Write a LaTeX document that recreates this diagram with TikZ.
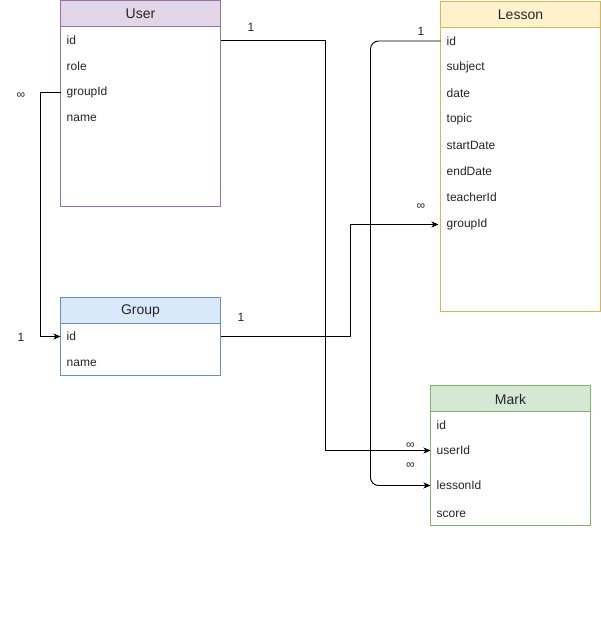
\documentclass[tikz,border=0pt]{standalone}
\usepackage{fontspec}
\setmainfont{Liberation Sans}
\usetikzlibrary{arrows.meta}
\begin{document}
\begin{tikzpicture}[x=1pt,y=-1pt,
  fld/.style={text width=148pt, inner xsep=6pt, inner ysep=0pt, minimum height=18pt,
    align=left, anchor=west, font=\fontsize{12}{14}\selectfont, text=black!85},
  ttl/.style={font=\fontsize{14}{16}\selectfont, text=black!85},
  lbl/.style={font=\fontsize{12}{14}\selectfont, text=black!85},
  conn/.style={line width=0.9pt, -{Stealth[length=7pt,width=6pt,inset=2pt]}},
  plain/.style={line width=0.9pt}
]
\definecolor{umfill}{HTML}{E1D5E7}\definecolor{umline}{HTML}{9673A6}
\definecolor{lsfill}{HTML}{FFF2CC}\definecolor{lsline}{HTML}{D6B656}
\definecolor{grfill}{HTML}{DAE8FC}\definecolor{grline}{HTML}{6C8EBF}
\definecolor{mkfill}{HTML}{D5E8D4}\definecolor{mkline}{HTML}{82B366}
\useasboundingbox[fill=white] (0,0) rectangle (601,634);

% table frames with coloured header band
\newcommand{\erbox}[6]{% x0,y0,x1,y1,fill,line
  \fill[white] (#1,#2) rectangle (#3,#4);
  \fill[#5] (#1,#2) rectangle (#3,#2+26);
  \draw[#6, line width=0.9pt] (#1,#2+26) -- (#3,#2+26);
  \draw[#6, line width=0.9pt] (#1,#2) rectangle (#3,#4);
}
\erbox{60.5}{0.5}{220.5}{206.5}{umfill}{umline}
\erbox{440.5}{1.5}{600.5}{311.5}{lsfill}{lsline}
\erbox{60.5}{297.5}{220.5}{375.5}{grfill}{grline}
\erbox{430.5}{385.5}{590.5}{525.5}{mkfill}{mkline}

% User
\node[ttl] (user) at (140.5,14) {User};
\node[fld] (uid)  at (60.5,40) {id};
\node[fld] (urole) at (60.5,66) {role};
\node[fld] (ugid) at (60.5,92) {groupId};
\node[fld] (uname) at (60.5,118) {name};

% Lesson
\node[ttl] (lesson) at (520.5,15) {Lesson};
\node[fld] (lid)  at (440.5,41) {id};
\node[fld] (lsub) at (440.5,67) {subject};
\node[fld] (ldate) at (440.5,93) {date};
\node[fld] (ltop) at (440.5,119) {topic};
\node[fld] (lsd) at (440.5,145) {startDate};
\node[fld] (led) at (440.5,171) {endDate};
\node[fld] (ltid) at (440.5,197) {teacherId};
\node[fld] (lgid) at (440.5,224.5) {groupId};

% Group
\node[ttl] (group) at (140.5,311) {Group};
\node[fld] (gid) at (60.5,336.5) {id};
\node[fld] (gname) at (60.5,363) {name};

% Mark
\node[ttl] (mark) at (510.5,399) {Mark};
\node[fld] (mid) at (430.5,425) {id};
\node[fld] (muid) at (430.5,450.5) {userId};
\node[fld] (mlid) at (430.5,485.5) {lessonId};
\node[fld] (mscore) at (430.5,514) {score};

% relations
\draw[conn] (ugid.west) -- ++(-20,0) |- (gid.west);
\draw[conn] (uid.east) -- ++(105,0) |- (muid.west);
\draw[conn, shorten >=2pt] (gid.east) -- ++(130,0) |- (lgid.west);
\draw[conn, rounded corners=8pt] (lid.west) -- ++(-70,0) |- (mlid.west);

% cardinalities
\node[lbl] (c1) at (21,96) {∞};
\node[lbl] (c2) at (21,337) {1};
\node[lbl] (c3) at (251,27) {1};
\node[lbl] (c4) at (410.5,446) {∞};
\node[lbl] (c5) at (241,317) {1};
\node[lbl] (c6) at (421,207) {∞};
\node[lbl] (c7) at (421,31) {1};
\node[lbl] (c8) at (410.5,466) {∞};
\end{tikzpicture}
\end{document}
